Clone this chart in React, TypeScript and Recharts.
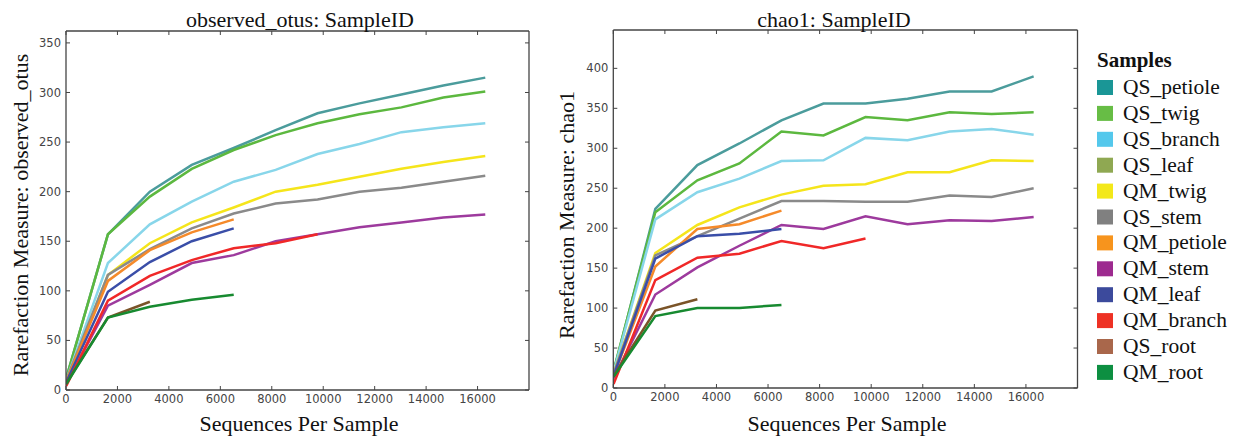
import React from 'react';
import { LineChart, Line, XAxis, YAxis } from 'recharts';

// Rarefaction depths (sequences per sample)
const DEPTHS = [10, 1630, 3260, 4890, 6520, 8150, 9780, 11410, 13040, 14670, 16300];

const SAMPLE_NAMES = [
  'QS_petiole', 'QS_twig', 'QS_branch', 'QS_leaf', 'QM_twig', 'QS_stem',
  'QM_petiole', 'QM_stem', 'QM_leaf', 'QM_branch', 'QS_root', 'QM_root',
];

const X_TICKS = [0, 2000, 4000, 6000, 8000, 10000, 12000, 14000, 16000];
const OBS_Y_TICKS = [0, 50, 100, 150, 200, 250, 300, 350];
const CHAO_Y_TICKS = [0, 50, 100, 150, 200, 250, 300, 350, 400];

// observed_otus
const OBS_QS_PETIOLE = [12, 157, 200, 227, 244, 262, 279, 289, 298, 307, 315];
const OBS_QS_TWIG = [12, 157, 195, 223, 242, 257, 269, 278, 285, 295, 301];
const OBS_QS_BRANCH = [10, 128, 167, 190, 210, 222, 238, 248, 260, 265, 269];
const OBS_QS_LEAF: number[] = [];
const OBS_QM_TWIG = [9, 116, 148, 169, 184, 200, 207, 215, 223, 230, 236];
const OBS_QS_STEM = [10, 116, 142, 163, 178, 188, 192, 200, 204, 210, 216];
const OBS_QM_PETIOLE = [9, 110, 141, 159, 172];
const OBS_QM_STEM = [6, 85, 106, 128, 136, 150, 157, 164, 169, 174, 177];
const OBS_QM_LEAF = [8, 99, 129, 150, 163];
const OBS_QM_BRANCH = [4, 90, 115, 131, 143, 148, 157];
const OBS_QS_ROOT = [7, 73, 89];
const OBS_QM_ROOT = [6, 73, 84, 91, 96];

// chao1
const CHAO_QS_PETIOLE = [20, 224, 279, 306, 335, 356, 356, 362, 371, 371, 390];
const CHAO_QS_TWIG = [22, 220, 260, 281, 321, 316, 339, 335, 345, 343, 345];
const CHAO_QS_BRANCH = [20, 211, 245, 262, 284, 285, 313, 310, 321, 324, 317];
const CHAO_QS_LEAF: number[] = [];
const CHAO_QM_TWIG = [18, 169, 204, 226, 242, 253, 255, 270, 270, 285, 284];
const CHAO_QS_STEM = [18, 166, 190, 212, 234, 234, 233, 233, 241, 239, 250];
const CHAO_QM_PETIOLE = [15, 152, 199, 205, 222];
const CHAO_QM_STEM = [12, 117, 151, 178, 204, 199, 215, 205, 210, 209, 214];
const CHAO_QM_LEAF = [15, 162, 190, 193, 199];
const CHAO_QM_BRANCH = [5, 135, 163, 168, 184, 175, 187];
const CHAO_QS_ROOT = [15, 97, 111];
const CHAO_QM_ROOT = [14, 90, 100, 100, 104];

const OBS_SERIES = [
  OBS_QS_PETIOLE, OBS_QS_TWIG, OBS_QS_BRANCH, OBS_QS_LEAF, OBS_QM_TWIG, OBS_QS_STEM,
  OBS_QM_PETIOLE, OBS_QM_STEM, OBS_QM_LEAF, OBS_QM_BRANCH, OBS_QS_ROOT, OBS_QM_ROOT,
];
const CHAO_SERIES = [
  CHAO_QS_PETIOLE, CHAO_QS_TWIG, CHAO_QS_BRANCH, CHAO_QS_LEAF, CHAO_QM_TWIG, CHAO_QS_STEM,
  CHAO_QM_PETIOLE, CHAO_QM_STEM, CHAO_QM_LEAF, CHAO_QM_BRANCH, CHAO_QS_ROOT, CHAO_QM_ROOT,
];

const LEGEND_COLORS = [
  '#1a9696', '#67bd45', '#54c8ec', '#8fa852', '#f3e81a', '#808080',
  '#f7941d', '#9d2a8f', '#3c4a9c', '#ee3124', '#a9674b', '#0d8f41',
];
const LINE_COLORS = [
  '#4b9c9c', '#5cb83f', '#88d6ea', '#8fa852', '#f5e51b', '#8a8a8a',
  '#f58a2a', '#9d3a9d', '#3a4ea8', '#f02828', '#7a5428', '#178a30',
];

const AXIS_COLOR = '#444';
const TICK_STYLE = { fill: '#444', fontSize: 11.5, fontFamily: 'DejaVu Sans' };
const SERIF = 'Liberation Serif';

function toPoints(vals: number[]) {
  return vals.map((v, i) => ({ x: DEPTHS[i], y: v }));
}

function Panel(props: {
  left: number; width: number; margin: any; yMax: number; yTicks: number[]; series: number[][];
}) {
  const { left, width, margin, yMax, yTicks, series } = props;
  const axisLine = { stroke: AXIS_COLOR, strokeWidth: 1.3 };
  const tickLine = { stroke: AXIS_COLOR, strokeWidth: 1 };
  return (
    <div style={{ position: 'absolute', left, top: 0 }}>
      <LineChart width={width} height={438} margin={margin}>
        <XAxis xAxisId="b" type="number" dataKey="x" domain={[0, 18000]} ticks={X_TICKS}
          allowDataOverflow interval={0} height={30} tickSize={-4} tickMargin={9}
          axisLine={axisLine} tickLine={tickLine} tick={TICK_STYLE} />
        <XAxis xAxisId="t" orientation="top" type="number" dataKey="x" domain={[0, 18000]} ticks={X_TICKS}
          allowDataOverflow interval={0} height={1} tickSize={-4} tickFormatter={() => ''}
          axisLine={axisLine} tickLine={tickLine} tick={TICK_STYLE} />
        <YAxis yAxisId="l" type="number" domain={[0, yMax]} ticks={yTicks}
          allowDataOverflow interval={0} width={40} tickSize={-4} tickMargin={9}
          axisLine={axisLine} tickLine={tickLine} tick={TICK_STYLE} />
        <YAxis yAxisId="r" orientation="right" type="number" domain={[0, yMax]} ticks={yTicks}
          allowDataOverflow interval={0} width={1} tickSize={-4} tickFormatter={() => ''}
          axisLine={axisLine} tickLine={tickLine} tick={TICK_STYLE} />
        {series.map((vals, i) =>
          vals.length ? (
            <Line key={SAMPLE_NAMES[i]} xAxisId="b" yAxisId="l" data={toPoints(vals)} dataKey="y"
              name={SAMPLE_NAMES[i]} type="linear" stroke={LINE_COLORS[i]} strokeWidth={2.5}
              dot={false} activeDot={false} isAnimationActive={false} />
          ) : null
        )}
      </LineChart>
    </div>
  );
}

export default function App() {
  return (
    <div style={{ position: 'absolute', left: 0, top: 0, width: 1233, height: 438, background: '#fff' }}>
      <Panel left={0} width={540} margin={{ top: 30, right: 10, bottom: 18, left: 26 }}
        yMax={362} yTicks={OBS_Y_TICKS} series={OBS_SERIES} />
      <Panel left={540} width={545} margin={{ top: 29, right: 6.5, bottom: 20, left: 33.3 }}
        yMax={448} yTicks={CHAO_Y_TICKS} series={CHAO_SERIES} />
      <svg width={1233} height={438} style={{ position: 'absolute', left: 0, top: 0, pointerEvents: 'none' }}>
        <g fontFamily={SERIF} fill="#111" fontSize={22}>
          <text x={300} y={27} textAnchor="middle">observed_otus: SampleID</text>
          <text x={834} y={27} textAnchor="middle">chao1: SampleID</text>
          <text x={299} y={431} textAnchor="middle">Sequences Per Sample</text>
          <text x={847} y={431} textAnchor="middle">Sequences Per Sample</text>
          <text transform="translate(27.5,215) rotate(-90)" textAnchor="middle">Rarefaction Measure: observed_otus</text>
          <text transform="translate(574,215) rotate(-90)" textAnchor="middle">Rarefaction Measure: chao1</text>
        </g>
        <g fontFamily={SERIF} fill="#111">
          <text x={1097} y={67} fontSize={21} fontWeight="bold">Samples</text>
          {SAMPLE_NAMES.map((name, i) => (
            <g key={name}>
              <rect x={1097} y={80 + i * 25.9} width={16} height={15} fill={LEGEND_COLORS[i]} />
              <text x={1123} y={94 + i * 25.9} fontSize={21.5}>{name}</text>
            </g>
          ))}
        </g>
      </svg>
    </div>
  );
}
